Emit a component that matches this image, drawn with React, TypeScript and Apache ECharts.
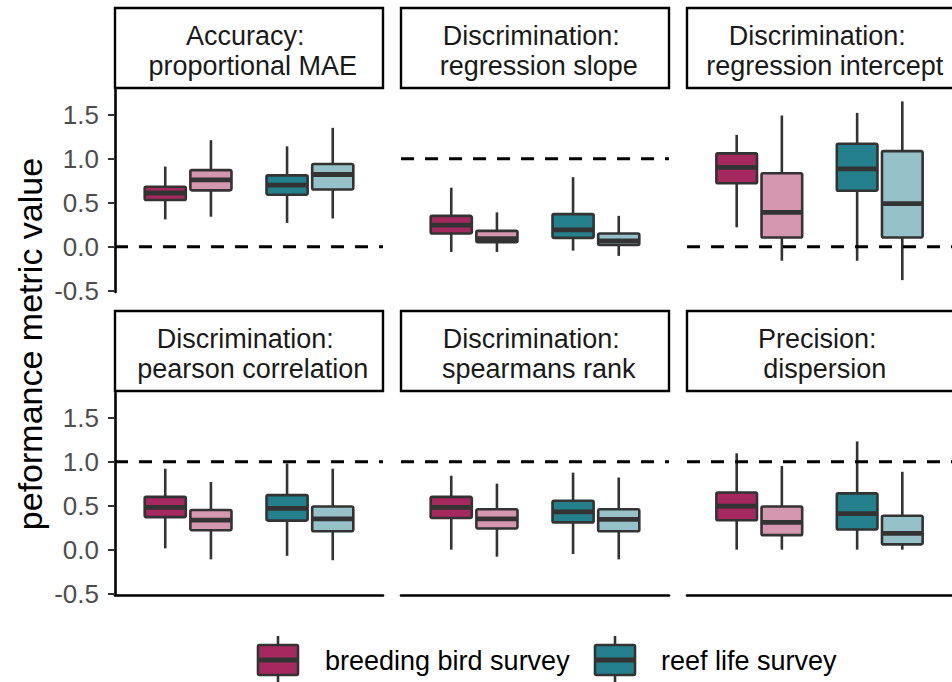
import React, { useEffect, useRef } from "react";
import * as echarts from "echarts";

// ---------- data ----------
const groupNames = ["breeding bird survey", "reef life survey"];
const facetLine1 = ["Accuracy:", "Discrimination:", "Discrimination:", "Discrimination:", "Discrimination:", "Precision:"];
const facetLine2 = ["proportional MAE", "regression slope", "regression intercept", "pearson correlation", "spearmans rank", "dispersion"];
const referenceValues = [0, 1, 0, 1, 1, 1];
const yTickValues = [-0.5, 0, 0.5, 1, 1.5];
const axisTitle = "peformance metric value";

// five-number summaries per facet: [lower whisker, Q1, median, Q3, upper whisker]
const bbsDark = [
  [0.31, 0.53, 0.61, 0.68, 0.91],
  [-0.06, 0.15, 0.245, 0.35, 0.67],
  [0.22, 0.72, 0.9, 1.06, 1.27],
  [0.015, 0.37, 0.48, 0.6, 0.92],
  [0.0, 0.36, 0.48, 0.6, 0.84],
  [0.0, 0.335, 0.495, 0.65, 1.095],
];
const bbsLight = [
  [0.34, 0.64, 0.76, 0.87, 1.21],
  [-0.06, 0.05, 0.09, 0.18, 0.39],
  [-0.16, 0.105, 0.39, 0.835, 1.49],
  [-0.11, 0.22, 0.335, 0.45, 0.77],
  [-0.08, 0.24, 0.35, 0.46, 0.75],
  [0.0, 0.165, 0.31, 0.49, 0.95],
];
const rlsDark = [
  [0.27, 0.59, 0.7, 0.81, 1.14],
  [-0.045, 0.1, 0.19, 0.37, 0.79],
  [-0.16, 0.635, 0.885, 1.17, 1.52],
  [-0.07, 0.33, 0.47, 0.62, 0.98],
  [-0.05, 0.31, 0.43, 0.555, 0.875],
  [0.0, 0.23, 0.41, 0.64, 1.23],
];
const rlsLight = [
  [0.32, 0.65, 0.82, 0.94, 1.35],
  [-0.105, 0.02, 0.065, 0.15, 0.35],
  [-0.38, 0.105, 0.49, 1.085, 1.65],
  [-0.12, 0.21, 0.35, 0.49, 0.92],
  [-0.11, 0.21, 0.345, 0.46, 0.82],
  [0.0, 0.06, 0.185, 0.385, 0.885],
];

// ---------- style / layout ----------
const FILLS = ["#A5285F", "#D596AF", "#23808C", "#96C1C8"];
const BORDER = "#333333";
const FONT = "Liberation Sans, Arial, Helvetica, sans-serif";
const X_MIN = 0.4;
const X_MAX = 2.6;
const Y_MIN = -0.515;
const Y_MAX = 1.78;
const DODGE = 0.1875;
const BOX_WIDTH = 0.3375;
const COL_LEFT = [115, 401, 687];
const ROW_TOP = [90, 393];
const PANEL_W = 268;
const PANEL_H = 202;
const STRIP_H = 80;
const STRIP_GAP = 2;
const LW = 2.6;

function renderBox(_params: any, api: any) {
  const x = api.value(0) as number;
  const lo = api.value(1) as number;
  const q1 = api.value(2) as number;
  const med = api.value(3) as number;
  const q3 = api.value(4) as number;
  const hi = api.value(5) as number;
  const shade = api.value(6) as number;
  const half = api.size([BOX_WIDTH, 0])[0] / 2;
  const [cx, yLo] = api.coord([x, lo]);
  const yQ1 = api.coord([x, q1])[1];
  const yMed = api.coord([x, med])[1];
  const yQ3 = api.coord([x, q3])[1];
  const yHi = api.coord([x, hi])[1];
  return {
    type: "group",
    children: [
      { type: "line", shape: { x1: cx, y1: yHi, x2: cx, y2: yQ3 }, style: { stroke: BORDER, lineWidth: LW } },
      { type: "line", shape: { x1: cx, y1: yQ1, x2: cx, y2: yLo }, style: { stroke: BORDER, lineWidth: LW } },
      {
        type: "rect",
        shape: { x: cx - half, y: yQ3, width: half * 2, height: yQ1 - yQ3, r: 1.5 },
        style: { fill: FILLS[shade], stroke: BORDER, lineWidth: LW },
      },
      { type: "line", shape: { x1: cx - half, y1: yMed, x2: cx + half, y2: yMed }, style: { stroke: BORDER, lineWidth: 4.8 } },
    ],
  };
}

function buildOption() {
  const grids: any[] = [];
  const xAxes: any[] = [];
  const yAxes: any[] = [];
  const series: any[] = [];
  const graphics: any[] = [];

  for (let i = 0; i < 6; i++) {
    const col = i % 3;
    const row = Math.floor(i / 3);
    const left = COL_LEFT[col];
    const top = ROW_TOP[row];
    grids.push({ left, top, width: PANEL_W, height: PANEL_H, containLabel: false });
    xAxes.push({
      gridIndex: i,
      type: "value",
      min: X_MIN,
      max: X_MAX,
      show: row === 1,
      axisLine: { show: true, onZero: false, lineStyle: { color: "#000", width: 2.6 } },
      axisTick: { show: false },
      axisLabel: { show: false },
      splitLine: { show: false },
    });
    yAxes.push({
      gridIndex: i,
      type: "value",
      min: Y_MIN,
      max: Y_MAX,
      show: col === 0,
      axisLine: { show: true, onZero: false, lineStyle: { color: "#000", width: 2.6 } },
      axisTick: { show: true, length: 7, customValues: yTickValues, lineStyle: { color: BORDER, width: 2 } },
      axisLabel: {
        show: true,
        customValues: yTickValues,
        margin: 16,
        fontSize: 26,
        fontFamily: FONT,
        color: "#4D4D4D",
        formatter: (v: number) => v.toFixed(1),
      },
      splitLine: { show: false },
    });

    const data = [
      [1 - DODGE, ...bbsDark[i], 0],
      [1 + DODGE, ...bbsLight[i], 1],
      [2 - DODGE, ...rlsDark[i], 2],
      [2 + DODGE, ...rlsLight[i], 3],
    ];
    series.push({
      type: "custom",
      xAxisIndex: i,
      yAxisIndex: i,
      renderItem: renderBox,
      encode: { x: 0, y: [1, 2, 3, 4, 5] },
      data,
      z: 2,
      silent: true,
    });
    series.push({
      type: "line",
      xAxisIndex: i,
      yAxisIndex: i,
      data: [
        [X_MIN, referenceValues[i]],
        [X_MAX, referenceValues[i]],
      ],
      symbol: "none",
      lineStyle: { color: "#000", width: 3, type: [13, 11] },
      z: 5,
      silent: true,
    });

    // facet strip
    const stripTop = top - STRIP_GAP - STRIP_H;
    const cxStrip = left + PANEL_W / 2;
    graphics.push({
      type: "rect",
      shape: { x: left, y: stripTop, width: PANEL_W, height: STRIP_H },
      style: { fill: "#fff", stroke: "#000", lineWidth: 2.4 },
      z: 10,
    });
    graphics.push({
      type: "text",
      x: cxStrip - 3.7,
      y: stripTop + 28,
      style: { text: facetLine1[i], fontSize: 27, fontFamily: FONT, fill: "#1A1A1A", align: "center", verticalAlign: "middle" },
      z: 11,
    });
    graphics.push({
      type: "text",
      x: cxStrip + 3.7,
      y: stripTop + 58,
      style: { text: facetLine2[i], fontSize: 27, fontFamily: FONT, fill: "#1A1A1A", align: "center", verticalAlign: "middle" },
      z: 11,
    });
  }

  // axis title
  graphics.push({
    type: "text",
    x: 30,
    y: 344,
    rotation: Math.PI / 2,
    style: { text: axisTitle, fontSize: 34, fontFamily: FONT, fill: "#000", align: "center", verticalAlign: "middle" },
    z: 11,
  });

  // legend
  const legendKeys = [
    { x: 258, textX: 325, fill: FILLS[0], label: groupNames[0] },
    { x: 595, textX: 661, fill: FILLS[2], label: groupNames[1] },
  ];
  legendKeys.forEach((k) => {
    const mid = k.x + 20;
    graphics.push({ type: "line", shape: { x1: mid, y1: 636, x2: mid, y2: 645 }, style: { stroke: BORDER, lineWidth: LW }, z: 11 });
    graphics.push({ type: "line", shape: { x1: mid, y1: 675, x2: mid, y2: 684 }, style: { stroke: BORDER, lineWidth: LW }, z: 11 });
    graphics.push({
      type: "rect",
      shape: { x: k.x, y: 645, width: 40, height: 30, r: 1.5 },
      style: { fill: k.fill, stroke: BORDER, lineWidth: LW },
      z: 11,
    });
    graphics.push({ type: "line", shape: { x1: k.x, y1: 660, x2: k.x + 40, y2: 660 }, style: { stroke: BORDER, lineWidth: 4.8 }, z: 12 });
    graphics.push({
      type: "text",
      x: k.textX,
      y: 661,
      style: { text: k.label, fontSize: 27, fontFamily: FONT, fill: "#000", align: "left", verticalAlign: "middle" },
      z: 11,
    });
  });

  return {
    animation: false,
    backgroundColor: "#ffffff",
    grid: grids,
    xAxis: xAxes,
    yAxis: yAxes,
    series,
    graphic: graphics,
  };
}

export default function App() {
  const ref = useRef<HTMLDivElement>(null);
  useEffect(() => {
    if (!ref.current) return;
    const chart = echarts.init(ref.current, undefined, { renderer: "svg" });
    chart.setOption(buildOption() as any);
    return () => chart.dispose();
  }, []);
  return (
    <div
      ref={ref}
      style={{ position: "absolute", left: 0, top: 0, width: 952, height: 682, background: "#fff" }}
    />
  );
}
